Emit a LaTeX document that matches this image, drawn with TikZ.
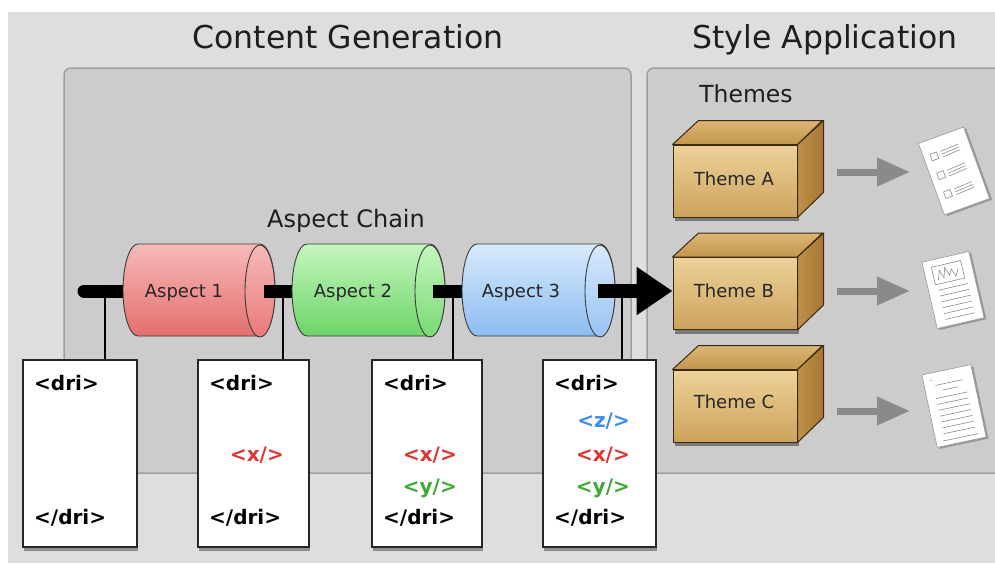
\documentclass[tikz,border=0pt]{standalone}
\usepackage{fontspec}
\setmainfont{DejaVu Sans}
\usetikzlibrary{arrows.meta,shadows}
\definecolor{outerbg}{HTML}{DEDEDE}
\definecolor{panelfill}{HTML}{CCCCCC}
\definecolor{panelline}{HTML}{9E9E9E}
\definecolor{cylline}{HTML}{3A3A3A}
\definecolor{redT}{HTML}{F7B9B9}
\definecolor{redB}{HTML}{E56E6E}
\definecolor{greenT}{HTML}{C4F6BE}
\definecolor{greenB}{HTML}{6DD468}
\definecolor{blueT}{HTML}{D8E9FC}
\definecolor{blueB}{HTML}{8CBCF1}
\definecolor{tagred}{HTML}{E0352F}
\definecolor{taggreen}{HTML}{3DAA34}
\definecolor{tagblue}{HTML}{3B8FE8}
\definecolor{cubeline}{HTML}{3A2A12}
\definecolor{cubeFT}{HTML}{EDD29A}
\definecolor{cubeFB}{HTML}{CDA25C}
\definecolor{cubeTT}{HTML}{DDB574}
\definecolor{cubeTB}{HTML}{C2964D}
\definecolor{cubeRL}{HTML}{C09149}
\definecolor{cubeRR}{HTML}{A57634}
\definecolor{grayarr}{HTML}{8A8A8A}
\definecolor{titletext}{HTML}{1E1E1E}

\tikzset{
  panelbox/.style={fill=panelfill, draw=panelline, line width=1.5pt, rounded corners=7pt},
  titletxt/.style={anchor=base, font=\fontsize{31.5}{36}\selectfont, text=titletext, inner sep=0pt},
  subtxt/.style={anchor=base, font=\fontsize{23.5}{28}\selectfont, text=titletext, inner sep=0pt},
  aspectlbl/.style={anchor=base, font=\fontsize{18}{22}\selectfont, text=black!85, inner sep=0pt},
  cylbody/.style={draw=cylline, line width=0.9pt},
  chainbar/.style={line width=13pt, black},
  tapline/.style={line width=1.6pt, black},
  docbox/.style={draw=black!85, line width=1.3pt, fill=white, minimum width=#1, minimum height=187pt, inner sep=0pt,
    drop shadow={shadow xshift=1pt, shadow yshift=-4pt, opacity=0.35, fill=black}},
  tagL/.style={anchor=base west, font=\bfseries\fontsize{20}{24}\selectfont, inner sep=0pt},
  tagR/.style={anchor=base east, font=\bfseries\fontsize{20}{24}\selectfont, inner sep=0pt},
  cubefront/.style={draw=cubeline, line width=1pt, top color=cubeFT, bottom color=cubeFB, minimum width=124pt,
    minimum height=72pt, inner sep=0pt, drop shadow={shadow xshift=2pt, shadow yshift=-4pt, opacity=0.4, fill=black}},
  cubeface/.style={draw=cubeline, line width=1pt, line join=round},
  grayarrow/.style={draw=grayarr, line width=7pt, -{Triangle[length=33pt,width=27pt]}},
  bigarrow/.style={black, line width=14pt, -{Triangle[length=36pt,width=46pt]}},
  paperline/.style={draw=black!45, line width=0.6pt},
}

\newcommand\aspectcyl[6]{%
  \shadedraw[cylbody, top color=#4, bottom color=#5]
    ([xshift=15pt]#1L |- 0,244) arc[start angle=270, end angle=90, x radius=15, y radius=46]
    -- (#1R |- 0,336) arc[start angle=90, end angle=-90, x radius=15, y radius=46] -- cycle;
  \shadedraw[cylbody, top color=#4, bottom color=#5!85!#4] (#1R) ellipse[x radius=15, y radius=46];
  \node[aspectlbl] (#1t) at (#2,297) {#6};
}

\newcommand\themecube[4]{%
  \node[cubefront] (#1) at (735,#2) {};
  \shadedraw[cubeface, top color=cubeTT, bottom color=cubeTB]
    (#1.north west) -- ++(26,-24) -- ++(124,0) -- (#1.north east) -- cycle;
  \shadedraw[cubeface, left color=cubeRL, right color=cubeRR]
    (#1.north east) -- ++(26,-24) -- ++(0,72) -- (#1.south east) -- cycle;
  \node[aspectlbl] (#1t) at (734,#4) {#3};
}

\begin{document}
\begin{tikzpicture}[x=1pt,y=-1pt]
\useasboundingbox (0,0) rectangle (995,563);
\fill[white] (0,0) rectangle (995,563);
\fill[outerbg] (8,12) rectangle (995,563);
\begin{scope}
  \clip (0,0) rectangle (995,563);
  \draw[panelbox] (64,68) rectangle (631,473);
  \draw[panelbox] (647,68) rectangle (1012,473);
\end{scope}

% titles
\node[titletxt] (tcg) at (348,48) {Content Generation};
\node[titletxt] (tsa) at (825,48) {Style Application};
\node[subtxt] (tth) at (746,102) {Themes};
\node[subtxt, font=\fontsize{24}{28}\selectfont] (tac) at (346,227) {Aspect Chain};

% chain coordinates
\coordinate (b0) at (84,291);
\coordinate (a1L) at (123,291);
\coordinate (a1R) at (260,291);
\coordinate (a2L) at (292,291);
\coordinate (a2R) at (430,291);
\coordinate (a3L) at (462,291);
\coordinate (a3R) at (600,291);
\coordinate (t1) at (105,291);
\coordinate (t2) at (283,291);
\coordinate (t3) at (453,291);
\coordinate (t4) at (622,291);

% document boxes
\node[docbox=114pt] (d1) at (80,453.5) {};
\node[docbox=111pt] (d2) at (253.5,453.5) {};
\node[docbox=110pt] (d3) at (427,453.5) {};
\node[docbox=113pt] (d4) at (599.5,453.5) {};

% taps
\draw[tapline] (t1) -- (t1 |- d1.north);
\draw[tapline] (t2) -- (t2 |- d2.north);
\draw[tapline] (t3) -- (t3 |- d3.north);
\draw[tapline] (t4) -- (t4 |- d4.north);

% chain
\draw[chainbar, line cap=round] (b0) -- ([xshift=15pt]a1L);
\aspectcyl{a1}{184}{}{redT}{redB}{Aspect 1}
\draw[chainbar] ([xshift=4pt]a1R) -- ([xshift=15pt]a2L);
\aspectcyl{a2}{353}{}{greenT}{greenB}{Aspect 2}
\draw[chainbar] ([xshift=3pt]a2R) -- ([xshift=15pt]a3L);
\aspectcyl{a3}{521}{}{blueT}{blueB}{Aspect 3}

% themes
\themecube{tA}{181}{Theme A}{185}
\themecube{tB}{293.5}{Theme B}{297}
\themecube{tC}{406}{Theme C}{408}

\draw[bigarrow] ([xshift=-2pt]a3R) -- (a3R -| tB.west);

% gray arrows
\coordinate (gA1) at (837,172); \coordinate (gA2) at (910,172);
\coordinate (gB1) at (837,291); \coordinate (gB2) at (910,291);
\coordinate (gC1) at (837,411); \coordinate (gC2) at (910,411);
\draw[grayarrow] (gA1) -- (gA2);
\draw[grayarrow] (gB1) -- (gB2);
\draw[grayarrow] (gC1) -- (gC2);

% papers
\coordinate (pA) at (954,171);
\begin{scope}[shift={(pA)}, rotate=20]
  \fill[black, opacity=0.25] (-22,-36) rectangle (26,40);
  \draw[fill=white, draw=black!40, line width=0.6pt] (-24,-38) rectangle (24,38);
  \foreach \yy in {-20,0,20} {
    \draw[paperline] (-17,\yy-4) rectangle (-10,\yy+3);
    \draw[paperline] (-6,\yy-3) -- (13,\yy-4);
    \draw[paperline] (-6,\yy) -- (13,\yy-1);
    \draw[paperline] (-6,\yy+3) -- (13,\yy+2);
  }
\end{scope}
\coordinate (pB) at (953,290);
\begin{scope}[shift={(pB)}, rotate=13]
  \fill[black, opacity=0.25] (-22,-32) rectangle (26,36);
  \draw[fill=white, draw=black!40, line width=0.6pt] (-24,-34) rectangle (24,34);
  \draw[paperline] (-16,-27) rectangle (14,-9);
  \draw[paperline] (-12,-13) -- (-9,-22) -- (-6,-14) -- (-3,-24) -- (0,-15) -- (3,-21) -- (6,-13) -- (10,-20);
  \foreach \yy in {-3,3,9,15,21,27} {
    \draw[paperline] (-14,\yy) -- (16,\yy);
  }
\end{scope}
\coordinate (pC) at (954,406);
\begin{scope}[shift={(pC)}, rotate=12]
  \fill[black, opacity=0.25] (-23,-35) rectangle (27,39);
  \draw[fill=white, draw=black!40, line width=0.6pt] (-25,-37) rectangle (25,37);
  \draw[paperline] (-18,-30) -- (-16,-30);
  \draw[paperline] (-14,-24) -- (14,-24);
  \draw[paperline] (-8,-18) -- (8,-18);
  \foreach \yy in {-11,-5,1,7,13,19,25} {
    \draw[paperline] (-16,\yy) -- (16,\yy);
  }
  \draw[paperline] (-18,32) -- (18,32);
\end{scope}

% tags
\node[tagL] (d1a) at (34,390) {<dri>};
\node[tagL] (d1b) at (34,524) {</dri>};
\node[tagL] (d2a) at (209,390) {<dri>};
\node[tagR, text=tagred] (d2x) at (284,461) {<x/>};
\node[tagL] (d2b) at (209,524) {</dri>};
\node[tagL] (d3a) at (383,390) {<dri>};
\node[tagR, text=tagred] (d3x) at (457,461) {<x/>};
\node[tagR, text=taggreen] (d3y) at (457,493) {<y/>};
\node[tagL] (d3b) at (383,524) {</dri>};
\node[tagL] (d4a) at (554,390) {<dri>};
\node[tagR, text=tagblue] (d4z) at (630,427) {<z/>};
\node[tagR, text=tagred] (d4x) at (630,461) {<x/>};
\node[tagR, text=taggreen] (d4y) at (630,493) {<y/>};
\node[tagL] (d4b) at (554,524) {</dri>};
\end{tikzpicture}
\end{document}
